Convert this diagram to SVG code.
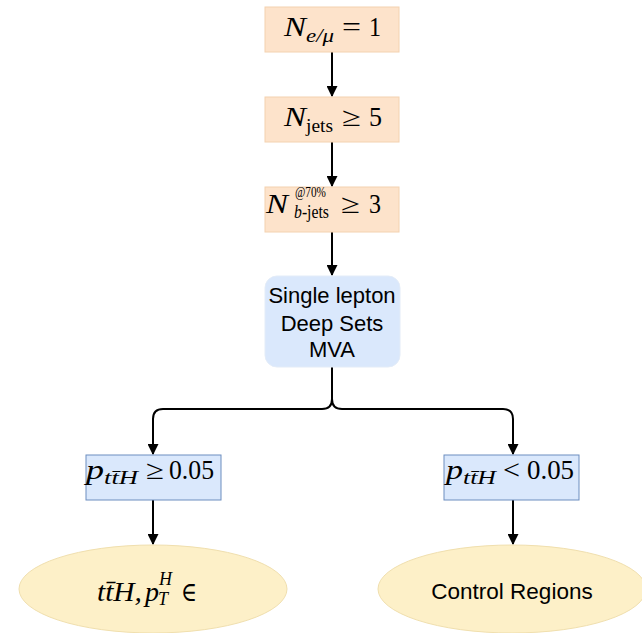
<svg xmlns="http://www.w3.org/2000/svg" width="642" height="633" viewBox="0 0 642 633">
<style>
.orange{fill:#fde3cb;stroke:#f3d2b0;stroke-width:1}
.blue{fill:#dae8fc;stroke:#6c8ebf;stroke-width:1}
.mva{fill:#dae8fc;stroke:#e3ecf8;stroke-width:1}
.ell{fill:#fdf0c8;stroke:#f0dfae;stroke-width:1}
.math{font-family:"Liberation Serif","DejaVu Serif",serif;font-size:27px;fill:#000}
.it{font-style:italic}
.sm{font-size:18px}
.xs{font-size:15px}
.sans{font-family:"Liberation Sans",Arial,sans-serif;font-size:22px;fill:#000}
.edge{fill:none;stroke:#000;stroke-width:2}
</style>
<defs>
<marker id="arr" viewBox="0 0 10 10" refX="9" refY="5" markerWidth="5.5" markerHeight="5.5" orient="auto" markerUnits="strokeWidth">
<path d="M0,0 L10,5 L0,10 z" fill="#000"/>
</marker>
</defs>
<g id="connectors">
<path class="edge" d="M332 52 V96" marker-end="url(#arr)"/>
<path class="edge" d="M332 142 V186" marker-end="url(#arr)"/>
<path class="edge" d="M332 232 V275" marker-end="url(#arr)"/>
<path class="edge" d="M332 367 V399 Q332 409 322 409 H163 Q153 409 153 419 V454" marker-end="url(#arr)"/>
<path class="edge" d="M332 367 V399 Q332 409 342 409 H503 Q513 409 513 419 V454" marker-end="url(#arr)"/>
<path class="edge" d="M153 500 V544" marker-end="url(#arr)"/>
<path class="edge" d="M513 500 V544" marker-end="url(#arr)"/>
</g>
<g id="n1">
<rect class="orange" x="265" y="7" width="134" height="45"/>
<text class="math it" x="284" y="36" textLength="22" lengthAdjust="spacingAndGlyphs">N</text>
<text class="math it sm" x="306" y="42" textLength="28" lengthAdjust="spacingAndGlyphs">e/μ</text>
<text class="math" x="342" y="36" textLength="19" lengthAdjust="spacingAndGlyphs">=</text>
<text class="math" x="369" y="36" textLength="12" lengthAdjust="spacingAndGlyphs">1</text>
</g>
<g id="n2">
<rect class="orange" x="265" y="97" width="134" height="45"/>
<text class="math it" x="284" y="126" textLength="22" lengthAdjust="spacingAndGlyphs">N</text>
<text class="math sm" x="306" y="132" textLength="27" lengthAdjust="spacingAndGlyphs">jets</text>
<text class="math" x="342" y="126" textLength="19" lengthAdjust="spacingAndGlyphs">≥</text>
<text class="math" x="369" y="126" textLength="13" lengthAdjust="spacingAndGlyphs">5</text>
</g>
<g id="n3">
<rect class="orange" x="265" y="187" width="134" height="45"/>
<text class="math it" x="266" y="213" textLength="22" lengthAdjust="spacingAndGlyphs">N</text>
<text class="math xs" x="295" y="197" textLength="31" lengthAdjust="spacingAndGlyphs">@70%</text>
<text class="math sm" x="294" y="218" textLength="35" lengthAdjust="spacingAndGlyphs"><tspan class="it">b</tspan>-jets</text>
<text class="math" x="341" y="213" textLength="19" lengthAdjust="spacingAndGlyphs">≥</text>
<text class="math" x="369" y="213" textLength="12" lengthAdjust="spacingAndGlyphs">3</text>
</g>
<g id="n4">
<rect class="mva" x="265" y="276" width="135" height="91" rx="12" ry="12"/>
<text class="sans" x="332" y="303" text-anchor="middle">Single lepton</text>
<text class="sans" x="332" y="331" text-anchor="middle">Deep Sets</text>
<text class="sans" x="332" y="357" text-anchor="middle">MVA</text>
</g>
<g id="n5">
<rect class="blue" x="86" y="455" width="135" height="45"/>
<text class="math it" x="86" y="479" textLength="18" lengthAdjust="spacingAndGlyphs">p</text>
<text class="math it sm" x="104" y="484" textLength="34" lengthAdjust="spacingAndGlyphs">tt̄H</text>
<text class="math" x="146" y="479" textLength="18" lengthAdjust="spacingAndGlyphs">≥</text>
<text class="math" x="169" y="479" textLength="45" lengthAdjust="spacingAndGlyphs">0.05</text>
</g>
<g id="n6">
<rect class="blue" x="444" y="455" width="135" height="45"/>
<text class="math it" x="446" y="479" textLength="17" lengthAdjust="spacingAndGlyphs">p</text>
<text class="math it sm" x="463" y="484" textLength="33" lengthAdjust="spacingAndGlyphs">tt̄H</text>
<text class="math" x="503" y="479" textLength="17" lengthAdjust="spacingAndGlyphs">&lt;</text>
<text class="math" x="527" y="479" textLength="47" lengthAdjust="spacingAndGlyphs">0.05</text>
</g>
<g id="n7">
<ellipse class="ell" cx="153" cy="589" rx="134" ry="44"/>
<text class="math it" x="97" y="601" textLength="45" lengthAdjust="spacingAndGlyphs">tt̄H,</text>
<text class="math it" x="145" y="601" textLength="14" lengthAdjust="spacingAndGlyphs">p</text>
<text class="math it sm" x="159" y="585">H</text>
<text class="math it sm" x="158" y="605">T</text>
<text class="math" x="181" y="601" textLength="16" lengthAdjust="spacingAndGlyphs">∈</text>
</g>
<g id="n8">
<ellipse class="ell" cx="512" cy="589" rx="134" ry="44"/>
<text class="sans" x="512" y="599" text-anchor="middle" style="font-size:22.5px">Control Regions</text>
</g>
</svg>
